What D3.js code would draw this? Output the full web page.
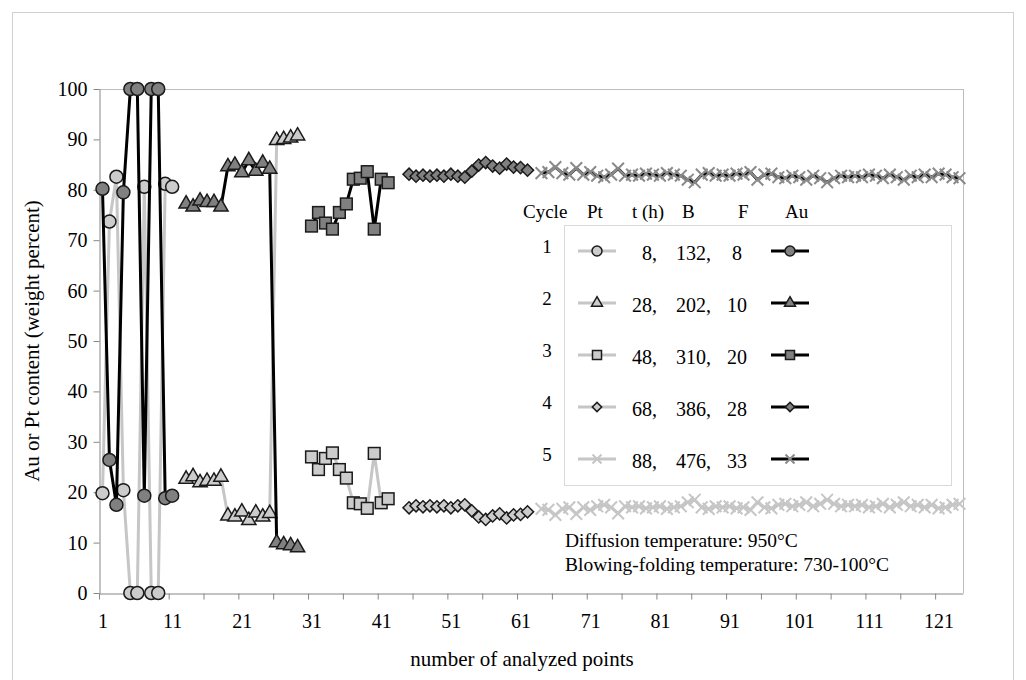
<!DOCTYPE html>
<html>
<head>
<meta charset="utf-8">
<title>Au and Pt content by analyzed point</title>
<script src="https://d3js.org/d3.v7.min.js"></script>
<style>
  body { margin: 0; background: #ffffff; }
  svg text { font-family: 'Liberation Serif', 'Times New Roman', serif; fill: #000; }
</style>
</head>
<body>
<div id="chart"></div>
<script>
// categories on the x axis: analyzed points 1..124
const categories = d3.range(1, 125);
const xTickLabels = [1, 11, 21, 31, 41, 51, 61, 71, 81, 91, 101, 111, 121];
const yTicks = [0, 10, 20, 30, 40, 50, 60, 70, 80, 90, 100];

// first analyzed point of each cycle
const cycleStart = [1, 13, 31, 45, 64];

// cycle 1 (circles)
const pt1 = [19.8, 73.7, 82.6, 20.4, 0, 0, 80.6, 0, 0, 81.2, 80.6];
const au1 = [80.2, 26.4, 17.5, 79.5, 100, 100, 19.3, 100, 100, 18.8, 19.3];
// cycle 2 (triangles)
const pt2 = [22.6, 23.1, 21.9, 22.2, 22.2, 23.0, 15.3, 15.1, 16.1, 14.4, 15.9, 15.1, 15.8, 89.8, 90.0, 90.3, 90.7];
const au2 = [77.2, 76.6, 77.8, 77.5, 77.5, 76.6, 84.6, 84.9, 83.4, 85.8, 83.7, 85.3, 84.1, 10.0, 9.6, 9.4, 9.0];
// cycle 3 (squares)
const pt3 = [27.0, 24.5, 26.7, 27.8, 24.5, 22.8, 17.9, 17.7, 16.8, 27.7, 17.9, 18.7];
const au3 = [72.8, 75.5, 73.4, 72.2, 75.5, 77.2, 82.1, 82.3, 83.6, 72.2, 82.1, 81.4];
// cycle 4 (diamonds)
const pt4 = [16.9, 17.3, 17.1, 17.3, 17.1, 17.3, 16.9, 17.3, 17.5, 16.3, 15.1, 14.6, 15.3, 15.7, 14.9, 15.5, 15.6, 16.1];
const au4 = [83.1, 82.7, 82.9, 82.7, 82.9, 82.7, 83.1, 82.7, 82.5, 83.7, 84.9, 85.4, 84.7, 84.3, 85.1, 84.5, 84.4, 83.9];
// cycle 5 (crosses)
const pt5 = [16.7, 16.5, 15.5, 16.7, 17.0, 15.7, 17.0, 16.5, 17.2, 17.5, 17.0, 15.8, 17.2, 17.0, 17.2, 16.8,
             17.0, 17.2, 16.7, 17.0, 17.2, 18.0, 18.5, 17.0, 16.7, 17.2, 17.0, 17.2, 16.8, 17.0, 16.5, 18.0,
             17.0, 16.8, 17.5, 17.7, 17.2, 17.5, 18.0, 17.2, 17.7, 18.5, 17.7, 17.2, 17.5, 17.2, 17.5, 17.0,
             17.2, 17.7, 17.0, 17.5, 18.0, 17.2, 17.5, 17.0, 17.5, 16.8, 17.0, 17.5, 17.7];
const au5 = [83.3, 83.5, 84.5, 83.3, 83.0, 84.3, 83.0, 83.5, 82.8, 82.5, 83.0, 84.2, 82.8, 83.0, 82.8, 83.2,
             83.0, 82.8, 83.3, 83.0, 82.8, 82.0, 81.5, 83.0, 83.3, 82.8, 83.0, 82.8, 83.2, 83.0, 83.5, 82.0,
             83.0, 83.2, 82.5, 82.3, 82.8, 82.5, 82.0, 82.8, 82.3, 81.5, 82.3, 82.8, 82.5, 82.8, 82.5, 83.0,
             82.8, 82.3, 83.0, 82.5, 82.0, 82.8, 82.5, 83.0, 82.5, 83.2, 83.0, 82.5, 82.3];

const ptSeries = [pt1, pt2, pt3, pt4, pt5];
const auSeries = [au1, au2, au3, au4, au5];
const shapes = ["circle", "triangle", "square", "diamond", "cross"];

// legend table
const cycles = [1, 2, 3, 4, 5];
const tHours = [8, 28, 48, 68, 88];
const bValues = [132, 202, 310, 386, 476];
const fValues = [8, 10, 20, 28, 33];

const W = 1026, H = 680;
const plot = {left: 99, right: 963, top: 89, bottom: 593};

const svg = d3.select("#chart").append("svg")
    .attr("width", W).attr("height", H);

// outer chart frame
svg.append("rect")
    .attr("x", 12.5).attr("y", 12.5)
    .attr("width", 1001).attr("height", 700)
    .attr("fill", "none").attr("stroke", "#d0d0d0");

const x = d3.scaleLinear().domain([0.5, categories.length + 0.5]).range([plot.left, plot.right]);
const y = d3.scaleLinear().domain([0, 100]).range([plot.bottom, plot.top]);

// plot border (top gridline and right edge)
svg.append("line")
    .attr("x1", plot.left).attr("x2", plot.right)
    .attr("y1", y(100) + 0.5).attr("y2", y(100) + 0.5)
    .attr("stroke", "#bdbdbd");
svg.append("line")
    .attr("x1", plot.right + 0.5).attr("x2", plot.right + 0.5)
    .attr("y1", plot.top).attr("y2", plot.bottom)
    .attr("stroke", "#bdbdbd");

// y axis
const yAxis = svg.append("g")
    .attr("transform", "translate(" + (plot.left + 0.5) + ",0)")
    .call(d3.axisLeft(y).tickValues(yTicks).tickSize(6).tickPadding(6).tickSizeOuter(0));
yAxis.select(".domain").attr("stroke", "#868686");
yAxis.selectAll(".tick line").attr("stroke", "#868686");
yAxis.selectAll("text").style("font-size", "20px").style("font-family", "'Liberation Serif', serif");

// x axis: tick marks every 5 points, labels every 10
const boundaries = d3.range(0, categories.length + 1, 5).map(k => k + 0.5);
const xAxis = svg.append("g")
    .attr("transform", "translate(0," + (plot.bottom + 0.5) + ")")
    .call(d3.axisBottom(x).tickValues(boundaries).tickFormat("").tickSize(6).tickSizeOuter(0));
xAxis.select(".domain").attr("stroke", "#868686");
xAxis.selectAll(".tick line").attr("stroke", "#868686");

const xLabels = svg.append("g")
    .attr("transform", "translate(0," + plot.bottom + ")")
    .call(d3.axisBottom(x).tickValues(xTickLabels).tickFormat(d3.format("d")).tickSize(0).tickPadding(21));
xLabels.select(".domain").remove();
xLabels.selectAll("text").style("font-size", "20px").style("font-family", "'Liberation Serif', serif");

// axis titles
svg.append("text")
    .attr("transform", "translate(39,341) rotate(-90)")
    .attr("text-anchor", "middle")
    .style("font-size", "21px")
    .text("Au or Pt content (weight percent)");
svg.append("text")
    .attr("x", 522).attr("y", 666)
    .attr("text-anchor", "middle")
    .style("font-size", "21px")
    .text("number of analyzed points");

// markers
function drawMarker(g, shape, cx, cy, fill, stroke, s) {
    if (shape === "circle") {
        g.append("circle").attr("cx", cx).attr("cy", cy).attr("r", s * 0.5)
            .attr("fill", fill).attr("stroke", stroke).attr("stroke-width", 1.5);
    } else if (shape === "triangle") {
        g.append("path")
            .attr("d", d3.symbol(d3.symbolTriangle, s * s * 0.52)())
            .attr("transform", "translate(" + cx + "," + cy + ")")
            .attr("fill", fill).attr("stroke", stroke).attr("stroke-width", 1.5);
    } else if (shape === "square") {
        g.append("rect").attr("x", cx - s * 0.45).attr("y", cy - s * 0.45)
            .attr("width", s * 0.9).attr("height", s * 0.9)
            .attr("fill", fill).attr("stroke", stroke).attr("stroke-width", 1.5);
    } else if (shape === "diamond") {
        g.append("rect").attr("x", -s * 0.33).attr("y", -s * 0.33)
            .attr("width", s * 0.66).attr("height", s * 0.66)
            .attr("transform", "translate(" + cx + "," + cy + ") rotate(45)")
            .attr("fill", fill).attr("stroke", stroke).attr("stroke-width", 1.5);
    } else {
        const h = s * 0.45;
        g.append("path")
            .attr("d", "M" + (-h) + "," + (-h) + "L" + h + "," + h + "M" + (-h) + "," + h + "L" + h + "," + (-h))
            .attr("transform", "translate(" + cx + "," + cy + ")")
            .attr("fill", "none").attr("stroke", fill).attr("stroke-width", 2);
    }
}

const line = d3.line().x(d => x(d.c)).y(d => y(d.v));

const ptLine = "#c6c6c6", ptFill = "#cccccc";
const auLine = "#000000", auFill = "#808080";

const marks = svg.append("g");
cycleStart.forEach(function(start, i) {
    const shape = shapes[i];
    [[ptSeries[i], ptLine, ptFill], [auSeries[i], auLine, auFill]].forEach(function(spec) {
        const pts = spec[0].map((v, j) => ({c: start + j, v: v}));
        marks.append("path")
            .datum(pts)
            .attr("d", line)
            .attr("fill", "none")
            .attr("stroke", spec[1])
            .attr("stroke-width", 3)
            .attr("stroke-linejoin", "round");
        const mg = marks.append("g");
        const crossFill = spec[1] === auLine ? "#8a8a8a" : "#c6c6c6";
        pts.forEach(function(p) {
            drawMarker(mg, shape, x(p.c), y(p.v), shape === "cross" ? crossFill : spec[2], "#1a1a1a", 13);
        });
    });
});

// legend
const legend = svg.append("g");
legend.append("rect")
    .attr("x", 564.5).attr("y", 225.5).attr("width", 387).attr("height", 260)
    .attr("fill", "#ffffff").attr("stroke", "#d9d9d9");

const header = [["Cycle", 523], ["Pt", 587], ["t (h)", 632], ["B", 682], ["F", 738], ["Au", 785]];
header.forEach(function(h) {
    legend.append("text").attr("x", h[1]).attr("y", 218).style("font-size", "19px").text(h[0]);
});

const rowY = [251, 303, 355, 407, 459];
cycles.forEach(function(c, i) {
    const ry = rowY[i];
    legend.append("text").attr("x", 547).attr("y", ry + 2).attr("text-anchor", "middle")
        .style("font-size", "19px").text(c);
    legend.append("line").attr("x1", 578).attr("x2", 616).attr("y1", ry).attr("y2", ry)
        .attr("stroke", ptLine).attr("stroke-width", 3);
    drawMarker(legend, shapes[i], 597, ry, shapes[i] === "cross" ? "#c6c6c6" : ptFill, "#1a1a1a", 10);
    legend.append("line").attr("x1", 771).attr("x2", 809).attr("y1", ry).attr("y2", ry)
        .attr("stroke", auLine).attr("stroke-width", 3);
    drawMarker(legend, shapes[i], 790, ry, shapes[i] === "cross" ? "#8a8a8a" : auFill, "#1a1a1a", 10);
    legend.append("text").attr("x", 657).attr("y", ry + 9).attr("text-anchor", "end")
        .style("font-size", "20px").text(tHours[i] + ",");
    legend.append("text").attr("x", 711).attr("y", ry + 9).attr("text-anchor", "end")
        .style("font-size", "20px").text(bValues[i] + ",");
    legend.append("text").attr("x", 737).attr("y", ry + 9).attr("text-anchor", "middle")
        .style("font-size", "20px").text(fValues[i]);
});

// notes
svg.append("text").attr("x", 565).attr("y", 547).style("font-size", "19.5px")
    .text("Diffusion temperature: 950°C");
svg.append("text").attr("x", 565).attr("y", 571).style("font-size", "19.5px")
    .text("Blowing-folding temperature: 730-100°C");
</script>
</body>
</html>
